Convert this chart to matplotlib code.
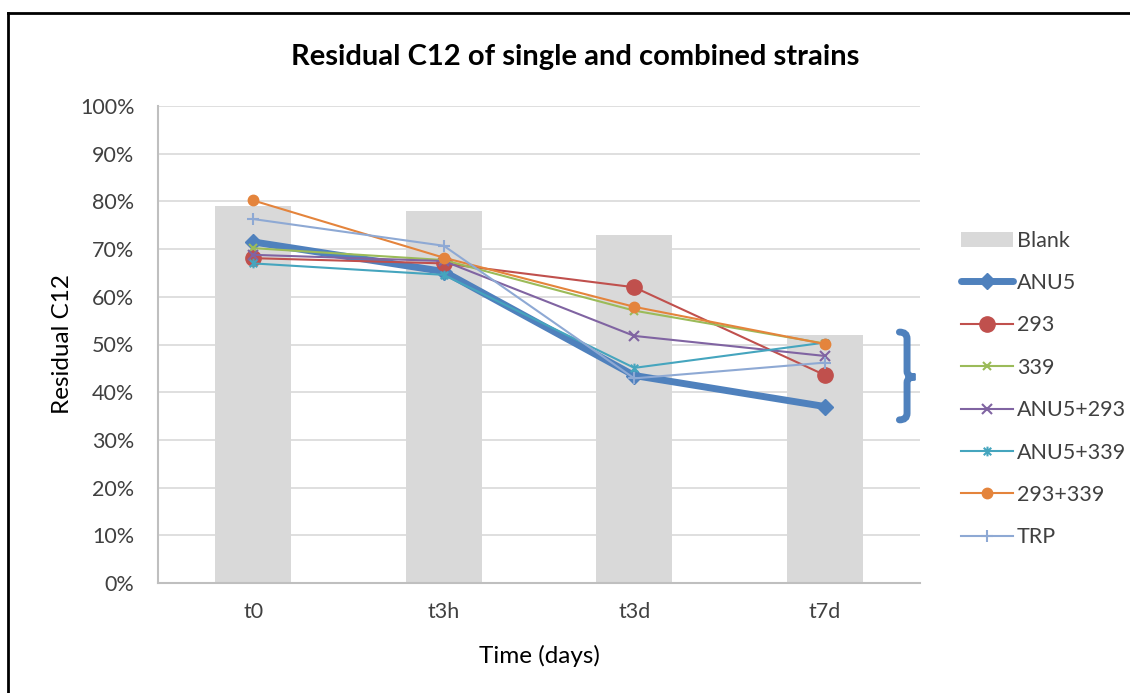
import numpy as np
import matplotlib
matplotlib.use('Agg')
import matplotlib.pyplot as plt
from matplotlib.path import Path
from matplotlib.patches import PathPatch
from matplotlib.lines import Line2D
import matplotlib.transforms as mtransforms
from matplotlib.ticker import PercentFormatter

plt.rcParams['font.family'] = ['Lato', 'DejaVu Sans']

# time points and residual C12 fractions (%)
times = ['t0', 't3h', 't3d', 't7d']
blank = [79.0, 78.0, 73.0, 52.0]
anu5 = [71.5, 65.3, 43.5, 37.0]
s293 = [68.1, 67.0, 62.0, 43.6]
s339 = [70.2, 67.7, 57.1, 50.2]
anu5_293 = [68.8, 67.5, 51.8, 47.6]
anu5_339 = [67.0, 64.6, 45.1, 50.4]
s293_339 = [80.2, 68.2, 57.9, 50.1]
trp = [76.3, 70.7, 42.9, 46.2]

# excel-like "star" marker: x with a vertical bar
star = Path([(-1, -1), (1, 1), (-1, 1), (1, -1), (0, -1.3), (0, 1.3)],
            [Path.MOVETO, Path.LINETO, Path.MOVETO, Path.LINETO, Path.MOVETO, Path.LINETO])

fig = plt.figure(figsize=(11.3, 6.93), dpi=100)
ax = fig.add_axes([158 / 1130, 110 / 693, 762 / 1130, 477 / 693])

x = np.arange(len(times))
ax.bar(x, blank, width=0.4, color='#d9d9d9', label='Blank', zorder=2)

ax.plot(x, anu5, color='#4f81bd', lw=5, marker='D', ms=8, label='ANU5', zorder=3,
        solid_capstyle='round')
ax.plot(x, s293, color='#c0504d', lw=1.5, marker='o', ms=11, label='293', zorder=4)
ax.plot(x, s339, color='#9bbb59', lw=1.5, marker='x', ms=6, mew=1.5, label='339', zorder=4)
ax.plot(x, anu5_293, color='#8064a2', lw=1.5, marker='x', ms=7, mew=1.5, label='ANU5+293', zorder=4)
ax.plot(x, anu5_339, color='#45a5be', lw=1.5, marker=star, ms=7, mew=1.5, label='ANU5+339', zorder=4)
ax.plot(x, s293_339, color='#e4843c', lw=1.5, marker='o', ms=7.5, label='293+339', zorder=4)
ax.plot(x, trp, color='#8ea9d4', lw=1.5, marker='+', ms=9, mew=1.5, label='TRP', zorder=4)

ax.set_xlim(-0.5, len(times) - 0.5)
ax.set_ylim(0, 100)
ax.set_yticks(np.arange(0, 101, 10))
ax.yaxis.set_major_formatter(PercentFormatter(decimals=0))
ax.set_xticks(x)
ax.set_xticklabels(times)
ax.tick_params(axis='both', length=0, labelsize=15.5, colors='#404040')
ax.tick_params(axis='y', pad=17)
ax.tick_params(axis='x', pad=13.5)
ax.grid(axis='y', color='#d9d9d9', lw=1.2, zorder=0)
ax.set_axisbelow(True)
for side in ['top', 'right']:
    ax.spines[side].set_visible(False)
for side in ['left', 'bottom']:
    ax.spines[side].set_color('#bfbfbf')
    ax.spines[side].set_linewidth(1.5)

ax.set_ylabel('Residual C12', fontsize=17.5, color='black', labelpad=5)
ax.set_xlabel('Time (days)', fontsize=17.5, color='black', labelpad=17)
fig.text(0.509, 0.918, 'Residual C12 of single and combined strains',
         ha='center', va='center', fontsize=21, fontweight='bold')

# curly brace beside the t7d group
tr = mtransforms.blended_transform_factory(ax.transAxes, ax.transData)
xl, xv, xt = 0.973, 0.983, 0.994
yt, ym, yb = 52.6, 43.2, 34.2
brace = Path([(xl, yt), (xv, yt), (xv, yt - 1.4), (xv, ym + 1.2),
              (xv, ym), (xt, ym), (xv, ym), (xv, ym - 1.2),
              (xv, yb + 1.4), (xv, yb), (xl, yb)],
             [Path.MOVETO, Path.CURVE3, Path.CURVE3, Path.LINETO,
              Path.CURVE3, Path.CURVE3, Path.CURVE3, Path.CURVE3,
              Path.LINETO, Path.CURVE3, Path.CURVE3])
ax.add_patch(PathPatch(brace, transform=tr, fill=False, edgecolor='#4f81bd',
                       lw=5, capstyle='round', clip_on=False, zorder=5))

handles, labels = ax.get_legend_handles_labels()
order = [labels.index('Blank')] + [i for i, l in enumerate(labels) if l != 'Blank']
leg = fig.legend([handles[i] for i in order], [labels[i] for i in order],
                 loc='center left', bbox_to_anchor=(961 / 1130, 0.4387),
                 frameon=False, fontsize=15.5, handlelength=2.4, handletextpad=0.2,
                 labelspacing=1.04, borderpad=0, borderaxespad=0)
for t in leg.get_texts():
    t.set_color('#404040')

# chart border (left and top edges only are in frame)
fig.add_artist(Line2D([8 / 1130, 8 / 1130], [0, 1 - 13 / 693], color='black', lw=2,
                      transform=fig.transFigure))
fig.add_artist(Line2D([8 / 1130, 1], [1 - 13 / 693, 1 - 13 / 693], color='black', lw=2,
                      transform=fig.transFigure))

fig.savefig('out.png', dpi=100)
